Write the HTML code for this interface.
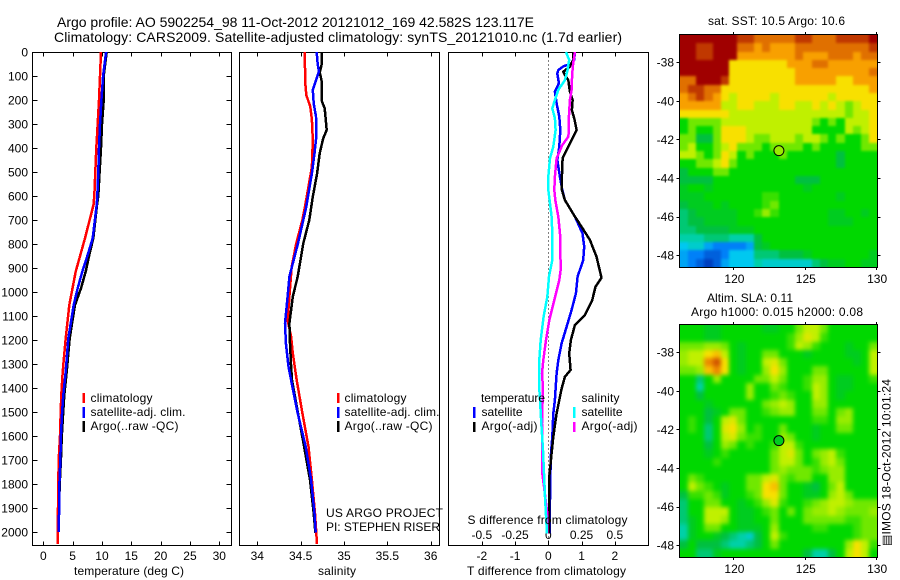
<!DOCTYPE html>
<html lang="en">
<head>
<meta charset="utf-8">
<title>Argo profile 5902254_98</title>
<style>
html,body{margin:0;padding:0;background:#fff;}
svg{display:block;}
text{font-family:"Liberation Sans",Arial,sans-serif;font-size:12px;fill:#000;}
.ttl{font-size:14px;}
.frame{fill:none;stroke:#000;stroke-width:1;shape-rendering:crispEdges;}
.bar{shape-rendering:crispEdges;}
</style>
</head>
<body>
<svg id="chart" xmlns="http://www.w3.org/2000/svg" width="900" height="580" viewBox="0 0 900 580">
  <defs>
    <filter id="blurSst" filterUnits="userSpaceOnUse" x="640" y="0" width="260" height="300" color-interpolation-filters="sRGB"><feGaussianBlur stdDeviation="1.3"/></filter>
    <filter id="blurSla" filterUnits="userSpaceOnUse" x="640" y="290" width="260" height="290" color-interpolation-filters="sRGB"><feGaussianBlur stdDeviation="2.2"/></filter>
    <clipPath id="clipSst"><rect x="679.5" y="35" width="198" height="232"/></clipPath>
    <clipPath id="clipSla"><rect x="679.5" y="325" width="198" height="232"/></clipPath>
  </defs>
  <rect x="0" y="0" width="900" height="580" fill="#fff"/>
  <text class="ttl" x="57" y="27" textLength="477">Argo profile: AO 5902254_98 11-Oct-2012 20121012_169 42.582S 123.117E</text>
  <text class="ttl" x="54" y="42" textLength="568">Climatology: CARS2009. Satellite-adjusted climatology: synTS_20121010.nc (1.7d earlier)</text>

  <g id="maps"></g>
  <g id="axes"></g>
  <g id="series"></g>
  <g id="markers"></g>

  <g>
    <rect class="bar" x="82.5" y="393" width="2.5" height="10" fill="#f00"/>
    <rect class="bar" x="82.5" y="407" width="2.5" height="11" fill="#00f"/>
    <rect class="bar" x="82.5" y="421" width="2.5" height="11" fill="#000"/>
    <text x="90.5" y="402" textLength="62">climatology</text>
    <text x="90.5" y="416" textLength="95">satellite-adj. clim.</text>
    <text x="90.5" y="430" textLength="88">Argo(..raw -QC)</text>
  </g>
  <g>
    <rect class="bar" x="337" y="393" width="2.5" height="10" fill="#f00"/>
    <rect class="bar" x="337" y="407" width="2.5" height="11" fill="#00f"/>
    <rect class="bar" x="337" y="421" width="2.5" height="11" fill="#000"/>
    <text x="344.5" y="402" textLength="62">climatology</text>
    <text x="344.5" y="416" textLength="95">satellite-adj. clim.</text>
    <text x="344.5" y="430" textLength="88">Argo(..raw -QC)</text>
  </g>
  <g>
    <text x="481" y="402" textLength="64">temperature</text>
    <text x="581.5" y="402" textLength="38">salinity</text>
    <rect class="bar" x="473" y="407" width="2.5" height="11" fill="#00f"/>
    <rect class="bar" x="473" y="422" width="2.5" height="10" fill="#000"/>
    <rect class="bar" x="573" y="407" width="2.5" height="11" fill="#0ff"/>
    <rect class="bar" x="573" y="422" width="2.5" height="10" fill="#f0f"/>
    <text x="481.5" y="416" textLength="41">satellite</text>
    <text x="481.5" y="430" textLength="56">Argo(-adj)</text>
    <text x="581.5" y="416" textLength="41">satellite</text>
    <text x="581.5" y="430" textLength="56">Argo(-adj)</text>
  </g>

  <text x="326" y="517" textLength="117">US ARGO PROJECT</text>
  <text x="326" y="531" textLength="114">PI: STEPHEN RISER</text>

  <text x="74" y="575" textLength="110">temperature (deg C)</text>
  <text x="318" y="575" textLength="38">salinity</text>
  <text x="467" y="575" textLength="159">T difference from climatology</text>
  <text x="467.5" y="524" textLength="160">S difference from climatology</text>

  <text x="708" y="25" textLength="137">sat. SST: 10.5 Argo: 10.6</text>
  <text x="707" y="302" textLength="86">Altim. SLA: 0.11</text>
  <text x="691" y="316" textLength="172">Argo h1000: 0.015 h2000: 0.08</text>
  <text transform="translate(890.5,546) rotate(-90)" x="0" y="0" textLength="167">▤IMOS 18-Oct-2012 10:01:24</text>
</svg>

<script>
// ---------- depth profile data ----------
const tempClimDepths = [0,100,200,300,400,500,600,637,776,915,1054,1193,1332,1429,1500,1600,1700,1800,1900,2000,2050];
const tempClimatology = [9.83,9.66,9.5,9.27,9.04,8.87,8.7,8.55,7.1,5.52,4.43,3.82,3.3,3.07,2.97,2.85,2.63,2.56,2.5,2.45,2.5];
const tempObsDepths = [0,100,200,300,400,500,600,637,776,845,915,984,1054,1124,1193,1332,1429,1500,1600,1700,1800,1900,2000];
const tempSatellite = [10.7,10.2,9.9,9.66,9.5,9.37,9.2,9.1,8.42,7.57,6.65,5.86,5.18,4.72,4.26,3.82,3.41,3.2,3.0,2.9,2.75,2.7,2.65];
const tempArgo = [10.8,10.3,10.3,10.0,9.83,9.6,9.37,9.15,8.52,7.84,7.23,6.43,5.4,4.94,4.5,3.99,3.58,3.4,3.15,3.0,2.8,2.7,2.65];

const salClimDepths = [0,130,179,228,283,367,478,561,644,700,797,894,1019,1117,1186,1255,1367,1505,1644,1783,1922,2050];
const salClimatology = [34.547,34.554,34.565,34.611,34.63,34.64,34.63,34.59,34.55,34.52,34.45,34.397,34.37,34.35,34.39,34.41,34.454,34.52,34.59,34.63,34.666,34.689];
const salSatDepths = [0,47,82,117,158,214,269,353,422,506,589,644,700,797,936,1019,1131,1214,1311,1367,1505,1644,1783,1922,2003];
const salSatellite = [34.685,34.696,34.71,34.677,34.64,34.65,34.677,34.68,34.66,34.63,34.59,34.565,34.53,34.47,34.37,34.35,34.32,34.33,34.36,34.39,34.466,34.558,34.62,34.66,34.674];
const salArgoDepths = [0,56,85,117,207,235,325,360,422,506,603,700,797,936,1019,1131,1214,1311,1367,1505,1644,1783,1922,2003];
const salArgo = [34.746,34.74,34.72,34.74,34.746,34.777,34.8,34.76,34.72,34.69,34.64,34.6,34.53,34.466,34.41,34.37,34.377,34.39,34.40,34.47,34.54,34.608,34.65,34.67];

const dtSatDepths = [0,33,47,60,75,89,130,165,214,269,325,394,450,519,575,617,686,756,811,867,936,1006,1075,1145,1214,1284,1339,1403,1450,1506,1603,1672,1770,1867,2006];
const dtSatellite = [0.80,0.78,0.70,0.45,0.30,0.27,0.32,0.20,0.25,0.33,0.36,0.33,0.27,0.35,0.42,0.50,0.80,1.03,1.08,1.05,0.88,0.83,0.70,0.55,0.40,0.30,0.25,0.22,0.20,0.15,0.12,0.08,0.06,0.05,0.04];
const dtArgoDepths = [0,33,61,82,96,117,165,200,242,283,325,353,394,443,519,575,617,686,728,783,853,941,978,1034,1096,1138,1200,1256,1325,1353,1403,1450,1506,1603,1672,1770,1867,2006];
const dtArgo = [0.75,0.75,0.65,0.45,0.5,0.6,0.65,0.73,0.71,0.79,0.85,0.75,0.6,0.43,0.41,0.41,0.5,0.8,1.0,1.25,1.45,1.6,1.42,1.32,1.10,0.8,0.68,0.63,0.67,0.5,0.40,0.33,0.25,0.15,0.10,0.03,0.03,0.03];
const dsArgoDepths = [0,47,89,158,200,269,325,353,388,443,519,575,617,686,770,909,950,1034,1117,1200,1284,1339,1403,1450,1547,1659,1756,1811,1922,2006];
const dsArgo = [0.20,0.1875,0.18,0.175,0.1625,0.155,0.155,0.15,0.105,0.0625,0.05,0.045,0.0525,0.075,0.09,0.0925,0.0825,0.045,0.0075,-0.0175,-0.0375,-0.0475,-0.04,-0.0425,-0.0475,-0.0475,-0.045,-0.0325,-0.0075,-0.0075];
const dsSatDepths = [0,33,54,75,117,158,200,235,276,325,394,443,519,575,617,686,756,867,936,1020,1103,1200,1284,1403,1450,1547,1659,1756,1853,2006];
const dsSatellite = [0.1325,0.1575,0.15,0.145,0.125,0.075,0.05,0.03,0.05,0.055,0.0375,0.0125,0,0,0.01,0.025,0.03,0.03,0.005,-0.0075,-0.035,-0.0575,-0.0675,-0.0675,-0.0625,-0.0525,-0.04,-0.0325,-0.025,-0.01];

// ---------- tick labels ----------
const depthTicks = [0,100,200,300,400,500,600,700,800,900,1000,1100,1200,1300,1400,1500,1600,1700,1800,1900,2000];
const tempTicks = [0,5,10,15,20,25,30];
const salTicks = [34,34.5,35,35.5,36];
const dtTicks = [-2,-1,0,1,2];
const dsTicks = [-0.5,-0.25,0,0.25,0.5];
const lonTicks = [120,125,130];
const latTicks = [-38,-40,-42,-44,-46,-48];

// ---------- float position and printed map values ----------
const argoLon = 123.117;
const argoLat = -42.582;
const argoSstLevel = 6.5;
const argoSlaLevel = 4.5;

// ---------- map grids (colour-scale level per cell, north to south) ----------
const sstGrid = [
[12,12,12,12,12,12,12,11,11,10,10,10,10,10,11,11,10,10,10,11,11,11,11,12],
[12,12,11,11,12,12,12,10,10,9,10,9,9,9,10,10,10,10,10,10,10,10,10,11],
[12,12,11,11,12,12,12,9,9,9,9,9,9,9,10,9,9,9,10,10,10,9,10,10],
[12,12,12,12,12,12,8,8,8,8,8,8,8,9,9,9,10,10,9,9,9,9,9,9],
[12,12,12,12,12,12,8,8,8,8,8,8,8,8,9,9,9,9,9,9,9,9,9,10],
[10,10,12,12,12,11,8,8,8,8,8,8,8,8,9,9,9,9,9,8,8,9,9,9],
[10,11,11,10,10,8,8,8,8,8,8,8,8,8,8,8,8,8,8,8,8,8,8,9],
[9,10,11,10,9,8,7,8,8,8,8,7,8,8,8,8,8,8,7,8,8,8,8,8],
[9,9,9,9,9,7,7,8,8,7,7,7,8,8,7,7,8,7,8,7,6,7,8,8],
[8,8,8,8,8,8,7,7,7,7,7,7,7,7,7,7,7,7,7,7,6,7,7,8],
[5,6,6,6,6,7,7,7,7,7,7,7,7,7,7,7,6,5,6,5,7,7,7,8],
[5,6,5,5,6,8,8,8,7,7,7,7,7,7,7,7,5,5,5,5,7,6,7,8],
[6,6,4,4,6,8,8,8,7,6,6,7,7,7,6,7,7,6,5,6,5,5,6,8],
[6,7,5,5,6,7,8,6,6,6,5,6,6,6,6,5,6,5,5,5,5,5,6,6],
[7,7,6,5,6,8,7,5,6,5,5,5,6,5,5,5,5,5,5,4,5,5,5,5],
[5,5,6,6,7,8,6,5,5,5,5,5,5,5,5,5,5,5,5,4,5,5,5,5],
[4,5,5,5,6,6,5,5,5,5,5,5,5,5,5,5,5,5,5,5,5,5,5,5],
[4,4,4,4,5,5,5,5,5,5,5,5,5,5,4,4,4,5,5,5,5,5,5,5],
[4.5,5,5,4.5,5,5,5,5,5,5,5,5,5,5,5,4.5,5,5,5,5,5,5,5,5],
[4.5,4.5,4.5,5,5,5,5,5,5,5,5.5,5.5,5,5,5,5,5,5,5,4.5,5,5,5,5],
[4,4.5,4.5,4.5,5,4.5,5,5,5,5,5.5,6,5,5,5,5,5,5,5,5,5,5,5,5],
[3.5,4,4.5,4.5,4.5,4.5,4.5,5,5,5.5,6.5,5.5,5,5,5,5,5,5,4.5,4.5,5,5,4.5,5],
[3.5,4,4,4.5,4.5,4.5,4.5,5,5,5,5,5,5,5,5,5,5,5,4.5,4.5,4.5,5,5,5],
[3.5,3.5,4,4,4,4,4.5,4.5,4.5,5,5,5,5,5,5,5,5,5,5,5,5,5,5,5],
[3,3,3,3.5,3.5,3.5,3,3,3,4,5,5,5,5,5,5,5,5,5,5,5,5,5,5],
[2,2.5,2.5,1.5,1,1,1,1,1.5,4,4.5,5,5,5,5,5,5,5,5,5,5,5,5,5],
[1.5,1,1,0.5,0.5,1,2,2,2,3.5,3.5,3.5,4,4,4,4.5,5,5,5,5,5,5,5,4.5],
[1.5,1,0.5,0,0.5,1.5,2,2,2,3,2.5,2.5,2.5,2.5,2.5,2.5,3.5,4,4.5,4.5,5,5,4.5,4.5]
];
const slaGrid = [
[5,5,5,4.5,4.5,5,5,5,5,5,4.5,4.5,5,5,6,7,7,6,5,5,5,5,5,5],
[5,5,5,4.5,4.5,5,5,5,5,5,5,5,5,5.5,6.5,7.5,7,5.5,5,5,5,5,5,5],
[6,6,6,6.5,6.5,6,5,4.5,5,5,5,5,5,5.5,7,6.5,5.5,5,5,5,4.5,5,5,6],
[6.5,7,7,8,8.5,7,5,4.5,5,5,6,6,5,5,5,4.5,5,5,5,5,4.5,4.5,5,7],
[6.5,7,7,9.5,10.5,8,5,4.5,5,5,7,7.5,6,5,5,5,5,5,5,5,5,4.5,5,7],
[6,6,6.5,8.5,9.5,8,5,4.5,5,5,6.5,8,6.5,5,5,5,6,6,5,5,5,5,5,7],
[5,5,3.5,5,6.5,5,5,5,5,6,6,7,6,5,5,5.5,6.5,6.5,5,4.5,4.5,5,5,5.5],
[5,5,3,5,5,5,5,5,6.5,5,5,6,5.5,5,5,5.5,7,6.5,5,4.5,4.5,5,5,5],
[5,5,4,5,5,5,5,5,6.5,5,5,5.5,6,5.5,5,5,7,6.5,5,4.5,5,5,5,5],
[5,5,5,4.5,5,5,5,5,5,5,6,6.5,7,6.5,5,5,6.5,6.5,5,5,5,5,5,5],
[5,5,5,4,4.5,5,6,6,5,5,5.5,6,6.5,6.5,5,5,6,6,5,6,6.5,5,5,5],
[5,5.5,5,4,5,7,7.5,6,5,5,5,5,5,5,5,5,5.5,5.5,5,6.5,6.5,5,5,5],
[5,5.5,5,3.5,5,7.5,8,6.5,5,5.5,5,5,6,5,5,5,4.5,5,5,6,6,5,5,5],
[5,5,5,3.5,5,7,7.5,6,5.5,5.5,5,5,6.5,6,5,5,4.5,5,5,5,5,5,5,5],
[5,5,5,4,5,6.5,6,5,5.5,5,5,5.5,7,7,5.5,5,5,5,5,5,5,5,5,5],
[5,5,5,4.5,5,5.5,5,5,5,5,5,6,7,7.5,6,5,6,6.5,7,5.5,5,5,5,5],
[5,5,5,5,5.5,5,5,5,5,5,5,6,7,7,6,5,5.5,6.5,7,6,5,5,5,5],
[5,5,5,5,5,5,5,5,5,5,5,6,6.5,6,6,6,5.5,6,6.5,6.5,5,5,5,5],
[5,6,5.5,5,5,5,5,5,6,6,7,7.5,6,5.5,6,6,5,5,6.5,6.5,5,5,5,5],
[5,7,6,5.5,5,4.5,5,5,6,6,8,8.5,6,5,5,4.5,4,5,6,7,5,5,5,5],
[4,5.5,5.5,6,5.5,4.5,5,5,5.5,6,8,8,6,5,5,4.5,4.5,5,6.5,7,6,5,5,5],
[3.5,5,5,6,6,5,5,4.5,5,5.5,6.5,7.5,5.5,5,5,5.5,6,6.5,7,7,6.5,6,6,6],
[3.5,5,5,7,7,7,5,4.5,4.5,5,5.5,6,5,6,5,6,6.5,6.5,7,6.5,6,6,6,6.5],
[3.5,4.5,5,7,7,6.5,5,4.5,4.5,5,5,6,5,5,5,6,6,6,6,6,5.5,5.5,6,6],
[3,4.5,5,6,6,5,5,4.5,4.5,4.5,5,6.5,5,5,5,5,5.5,5.5,5,5,5,5.5,6,6],
[3,4.5,5,5,4.5,4,3.5,3,2.5,4,5,7,5.5,5,5,5,5,5,5,5,5,5.5,6,6],
[4,5,4,4,4,3.5,3,3,3.5,4,5,6,5,5,5,5,5,5,5,5,6.5,8,7,5.5],
[5,5,3.5,3.5,4.5,5,5,5,5,5,5,5,5,5,5,4,3,3,4,5,7,8,7,5]
];

// ---------- scales ----------
const SVGNS = 'http://www.w3.org/2000/svg';
const PT = 52.5, PB = 545.5;
function yDepth(d){ return 52 + d * 0.24; }
function xTemp(t){ return 43.3 + t * 5.867; }
function xSal(s){ return 257.3 + (s - 34) * 86.7; }
function xDT(t){ return 548.3 + t * 33.25; }
function xDS(s){ return 548.3 + s * 133; }

const LON_MIN = 116.15, LAT_TOP = -36.59;
const MAP_W = 198, MAP_H = 232, MAP_L = 679.5;
const LON_PX = 14.27, LAT_PX = 19.3;
function xLon(lon){ return MAP_L + (lon - LON_MIN) * LON_PX; }
function yLat(top, lat){ return top + (LAT_TOP - lat) * LAT_PX; }

const colorStops = ['#0040c0','#0080f8','#00c8f0','#00d0a8','#00c040','#00d800','#70e800','#c0f000','#f8e000','#f8a000','#e07000','#c03800','#a00000'];
function hexRgb(h){ return [parseInt(h.substr(1,2),16),parseInt(h.substr(3,2),16),parseInt(h.substr(5,2),16)]; }
function levelColor(v){
  const c = Math.max(0, Math.min(colorStops.length - 1, v));
  const lo = Math.floor(c), hi = Math.min(colorStops.length - 1, lo + 1), f = c - lo;
  const a = hexRgb(colorStops[lo]), b = hexRgb(colorStops[hi]);
  return 'rgb(' + [0,1,2].map(function(k){ return Math.round(a[k] + (b[k] - a[k]) * f); }).join(',') + ')';
}

function mk(tag, parent, attrs, txt){
  const el = document.createElementNS(SVGNS, tag);
  for (const k in attrs) el.setAttribute(k, attrs[k]);
  if (txt !== undefined) el.textContent = txt;
  parent.appendChild(el);
  return el;
}

const axesG = document.getElementById('axes');
const seriesG = document.getElementById('series');
const mapsG = document.getElementById('maps');
const markersG = document.getElementById('markers');

function drawFrame(x0, x1, y0, y1, name){
  const r = mk('rect', axesG, {class:'frame', x:x0, y:y0, width:x1-x0, height:y1-y0});
  
  
}
function tickLine(x1, y1, x2, y2){
  const l = mk('line', axesG, {x1:x1, y1:y1, x2:x2, y2:y2, stroke:'#000', 'stroke-width':1, 'shape-rendering':'crispEdges'});
  
  
}
function tickText(x, y, anchor, s){
  const t = mk('text', axesG, {x:x, y:y, 'text-anchor':anchor}, s);
  
  
}

// ---------- profile panels ----------
function xAxis(ticks, fx, labelY){
  ticks.forEach(function(v){
    const x = Math.round(fx(v)) + 0.5;
    tickLine(x, PT, x, PT + 4);
    tickLine(x, PB, x, PB - 4);
    tickText(fx(v), labelY, 'middle', String(v));
  });
}
drawFrame(32.5, 231.5, PT, PB, 'temperature-panel-frame');
drawFrame(239.5, 439.5, PT, PB, 'salinity-panel-frame');
drawFrame(448.5, 648.5, PT, PB, 'difference-panel-frame');
depthTicks.forEach(function(d){
  const y = Math.round(yDepth(d)) + 0.5;
  tickLine(32.5, y, 37.5, y);
  tickLine(231.5, y, 226.5, y);
  tickText(28, yDepth(d) + 4.5, 'end', String(d));
});
xAxis(tempTicks, xTemp, 560);
xAxis(salTicks, xSal, 560);
xAxis(dtTicks, xDT, 560);
dsTicks.forEach(function(v){
  tickText(xDS(v), 539, 'middle', String(v));
});

const zeroLine = mk('line', axesG, {x1:548.5, y1:PT, x2:548.5, y2:PB, stroke:'#000', 'stroke-width':1, 'stroke-dasharray':'1 3', 'shape-rendering':'crispEdges'});



function profile(depths, vals, fx, color, name){
  const pts = depths.map(function(d, i){ return fx(vals[i]).toFixed(1) + ',' + yDepth(d).toFixed(1); }).join(' ');
  const p = mk('polyline', seriesG, {points:pts, fill:'none', stroke:color, 'stroke-width':2.5, 'stroke-linejoin':'round', 'shape-rendering':'crispEdges'});
  
  
}
profile(tempClimDepths, tempClimatology, xTemp, '#f00', 'temperature-climatology-line');
profile(tempObsDepths, tempArgo, xTemp, '#000', 'temperature-argo-line');
profile(tempObsDepths, tempSatellite, xTemp, '#00f', 'temperature-satellite-line');
profile(salClimDepths, salClimatology, xSal, '#f00', 'salinity-climatology-line');
profile(salArgoDepths, salArgo, xSal, '#000', 'salinity-argo-line');
profile(salSatDepths, salSatellite, xSal, '#00f', 'salinity-satellite-line');
profile(dtSatDepths, dtSatellite, xDT, '#00f', 't-difference-satellite-line');
profile(dtArgoDepths, dtArgo, xDT, '#000', 't-difference-argo-line');
profile(dsArgoDepths, dsArgo, xDS, '#f0f', 's-difference-argo-line');
profile(dsSatDepths, dsSatellite, xDS, '#0ff', 's-difference-satellite-line');

// ---------- maps ----------
function drawMap(grid, top, name, argoLevel, clipId, filterId){
  const rows = grid.length, cols = grid[0].length;
  const cw = MAP_W / cols, ch = MAP_H / rows;
  const EXT = 14;
  const clipG = mk('g', mapsG, {'clip-path':'url(#' + clipId + ')'});
  
  
  const blurG = mk('g', clipG, {filter:'url(#' + filterId + ')'});
  
  
  grid.forEach(function(row, j){
    row.forEach(function(v, i){
      const x0 = Math.round(MAP_L + i * cw) - (i === 0 ? EXT : 0);
      const x1 = Math.round(MAP_L + (i + 1) * cw) + (i === cols - 1 ? EXT : 0);
      const y0 = Math.round(top + j * ch) - (j === 0 ? EXT : 0);
      const y1 = Math.round(top + (j + 1) * ch) + (j === rows - 1 ? EXT : 0);
      const c = mk('rect', blurG, {x:x0, y:y0, width:x1-x0, height:y1-y0, fill:levelColor(v), 'shape-rendering':'crispEdges'});
      
      
    });
  });
  const bottom = top + MAP_H;
  drawFrame(MAP_L, MAP_L + MAP_W, top - 0.5, bottom + 0.5, name + '-frame');
  lonTicks.forEach(function(lon){
    const x = Math.round(xLon(lon)) - 0.5;
    tickLine(x, top - 3, x, top);
    tickLine(x, bottom, x, bottom + 3);
    tickText(xLon(lon), bottom + 16, 'middle', String(lon));
  });
  latTicks.forEach(function(lat){
    const y = Math.round(yLat(top, lat)) + 0.5;
    tickLine(MAP_L - 3, y, MAP_L, y);
    tickLine(MAP_L + MAP_W, y, MAP_L + MAP_W + 3, y);
    tickText(674, yLat(top, lat) + 4.5, 'end', String(lat));
  });
  const m = mk('circle', markersG, {cx:xLon(argoLon), cy:yLat(top, argoLat), r:5, fill:levelColor(argoLevel), stroke:'#000', 'stroke-width':1});
  
  
}
drawMap(sstGrid, 35, 'sst-map', argoSstLevel, 'clipSst', 'blurSst');
drawMap(slaGrid, 325, 'sla-map', argoSlaLevel, 'clipSla', 'blurSla');
</script>
</body>
</html>
